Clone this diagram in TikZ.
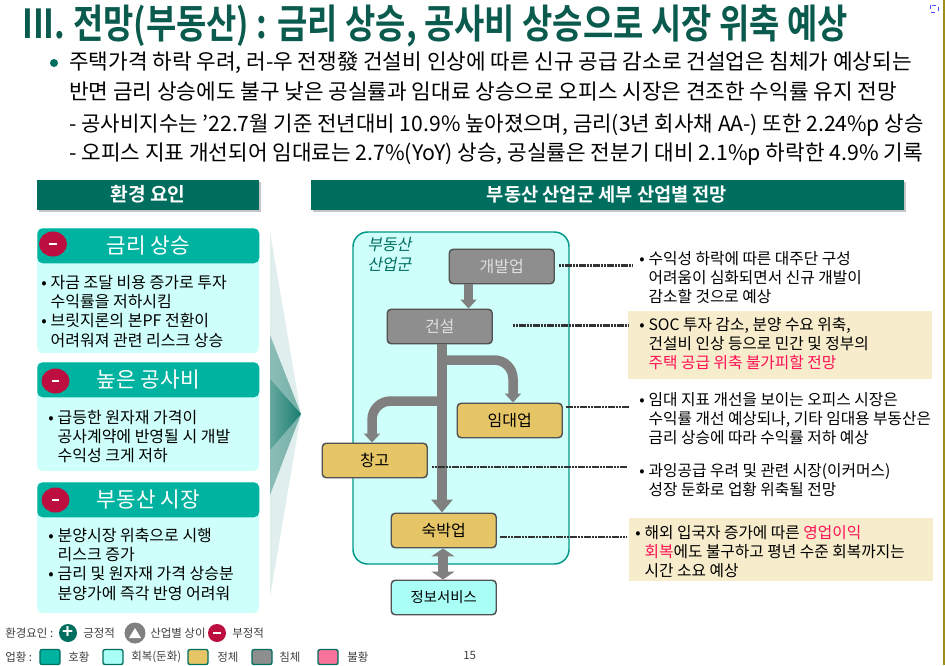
\documentclass[tikz,border=0pt]{standalone}
\usepackage{fontspec}
\setmainfont{Noto Sans CJK KR}
\newfontfamily\krbold{Noto Sans CJK KR Bold}
\newfontfamily\krslant[FakeSlant=0.2]{Noto Sans CJK KR}
\usepackage{tikz}
\usetikzlibrary{arrows.meta,shadows,shapes.geometric}
\definecolor{deepgreen}{HTML}{006E5F}
\definecolor{titlegreen}{HTML}{0B5A4E}
\definecolor{tealhead}{HTML}{00B3A0}
\definecolor{palecyan}{HTML}{CFFFFA}
\definecolor{mintfill}{HTML}{A9FFF6}
\definecolor{sandbox}{HTML}{F7ECCB}
\definecolor{stall}{HTML}{E6C566}
\definecolor{slump}{HTML}{8E8E8E}
\definecolor{badpink}{HTML}{F8729A}
\definecolor{hotred}{HTML}{FF0F55}
\definecolor{minusred}{HTML}{BC0F3F}
\newcommand{\pxu}{pt*0.75}
\newcommand{\bu}{\makebox[7pt][l]{•}}
\newcommand{\hang}{\hspace*{7pt}}
\newcommand{\minusbar}{\rule{5.5pt}{2pt}}
\tikzset{
  headbar/.style={fill=deepgreen, text=white, minimum height=30\pxu, inner sep=0pt, drop shadow={shadow xshift=1.5pt, shadow yshift=-1.5pt, fill=black!45}},
  factorhead/.style={rounded corners=4pt, fill=tealhead, text=white, minimum width=222\pxu, minimum height=35\pxu, inner sep=0pt},
  minusdot/.style={ellipse, fill=minusred, text=white, minimum width=28\pxu, minimum height=25\pxu, inner sep=0pt},
  sector/.style={rounded corners=3pt, draw=black!68, line width=1.1pt, minimum width=105\pxu, minimum height=34.5\pxu, inner sep=0pt, anchor=north west, font=\fontsize{12pt}{14pt}\selectfont},
  flow/.style={draw=black!50, line width=9.5\pxu, -{Triangle[width=16\pxu,length=9\pxu]}},
  leader/.style={line width=1.8pt, dash pattern=on 1.6pt off 0.5pt, black!80},
  note/.style={anchor=north west, align=left, inner sep=0pt, font=\fontsize{11.8pt}{14.4pt}\selectfont},
  legendbox/.style={rounded corners=1.5pt, draw=deepgreen, line width=1pt, minimum width=20\pxu, minimum height=15\pxu, inner sep=0pt},
  legendtext/.style={font=\fontsize{8.6pt}{9pt}\selectfont, black!75, inner sep=0pt, anchor=west},
}
\begin{document}
\begin{tikzpicture}[x=0.75pt, y=-0.75pt]
\useasboundingbox (0,0) rectangle (945,665);
\fill[white] (0,0) rectangle (945,665);
\fill[olive!70!brown] (943,0) rectangle (945,665);
\draw[blue!70!white, dashed, line width=0.5pt] (930,5) rectangle (938,12);
% title and lead text
\node[anchor=west, inner sep=0pt, text=titlegreen] (title) at (22,26) {\fontsize{30pt}{32pt}\krbold\scalebox{0.823}[1]{III. 전망(부동산) : 금리 상승, 공사비 상승으로 시장 위축 예상}};
\node[circle, fill=deepgreen, minimum size=8\pxu, inner sep=0pt] (leaddot) at (54,63) {};
\node[anchor=west, inner sep=0pt] (lead1) at (69,63) {\fontsize{16pt}{18pt}\selectfont 주택가격 하락 우려, 러-우 전쟁發 건설비 인상에 따른 신규 공급 감소로 건설업은 침체가 예상되는};
\node[anchor=west, inner sep=0pt] (lead2) at (69,92) {\fontsize{16pt}{18pt}\selectfont 반면 금리 상승에도 불구 낮은 공실률과 임대료 상승으로 오피스 시장은 견조한 수익률 유지 전망};
\node[anchor=west, inner sep=0pt] (lead3) at (69,125) {\fontsize{15.85pt}{18pt}\selectfont - 공사비지수는 ’22.7월 기준 전년대비 10.9\% 높아졌으며, 금리(3년 회사채 AA-) 또한 2.24\%p 상승};
\node[anchor=west, inner sep=0pt] (lead4) at (69,154) {\fontsize{16pt}{18pt}\selectfont - 오피스 지표 개선되어 임대료는 2.7\%(YoY) 상승, 공실률은 전분기 대비 2.1\%p 하락한 4.9\% 기록};
% header bars
\node[headbar, minimum width=222\pxu] (envhead) at (148,194.5) {\fontsize{14.4pt}{16pt}\krbold 환경 요인};
\node[headbar, minimum width=593\pxu] (sechead) at (607,194.5) {\fontsize{14pt}{16pt}\krbold 부동산 산업군 세부 산업별 전망};
% fan towards the sectors
\shade[left color=black!12!teal!12, right color=black!12!teal!12] (270,232) -- (301,414) -- (270,597) -- cycle;
\shade[left color=deepgreen!45, right color=deepgreen!55] (270,335) -- (301,414) -- (270,495) -- cycle;
\shade[left color=deepgreen!60, right color=deepgreen!90] (270,379) -- (301,414) -- (270,450) -- cycle;
% factor cards
\foreach \nm/\ytop/\ybot/\ttl in {a/228/353/금리 상승, b/362/471/높은 공사비, c/482/613/부동산 시장} {
  \fill[palecyan, rounded corners=4pt] (37,\ytop) rectangle (259,\ybot);
  \node[factorhead, anchor=north west, font=\fontsize{16pt}{18pt}\selectfont] (head\nm) at (37,\ytop) {\ttl};
}
\node[minusdot] (minusa) at (53,244) {\minusbar};
\node[minusdot] (minusb) at (55.5,381) {\minusbar};
\node[minusdot] (minusc) at (55.5,500) {\minusbar};
\node[note, font=\fontsize{12pt}{14.4pt}\selectfont] (cardatext) at (41,275) {\bu 자금 조달 비용 증가로 투자\\\hang 수익률을 저하시킴\\\bu 브릿지론의 본PF 전환이\\\hang 어려워져 관련 리스크 상승};
\node[note, font=\fontsize{12pt}{14.4pt}\selectfont] (cardbtext) at (48,410) {\bu 급등한 원자재 가격이\\\hang 공사계약에 반영될 시 개발\\\hang 수익성 크게 저하};
\node[note, font=\fontsize{12pt}{14.4pt}\selectfont] (cardctext) at (48,528) {\bu 분양시장 위축으로 시행\\\hang 리스크 증가\\\bu 금리 및 원자재 가격 상승분\\\hang 분양가에 즉각 반영 어려워};
% sector panel
\draw[fill=palecyan, draw=tealhead!85!black, line width=1.1pt, rounded corners=11pt] (353,232) rectangle (569,564);
\node[anchor=north west, align=left, inner sep=0pt, text=deepgreen, font=\fontsize{12pt}{15pt}\krslant] (panellabel) at (367,237) {부동산\\산업군};
\node[sector, fill=slump, text=white!88!black] (dev) at (448.5,248.5) {개발업};
\node[sector, fill=slump, text=white!88!black] (con) at (386.5,308.5) {건설};
\node[sector, fill=stall] (lease) at (456.5,402.5) {임대업};
\node[sector, fill=stall] (store) at (321.5,442.5) {창고};
\node[sector, fill=stall] (stay) at (390.5,512.5) {숙박업};
\node[sector, fill=mintfill, font=\fontsize{10.8pt}{14pt}\selectfont] (info) at (390.5,579.5) {정보서비스};
\coordinate (trunkhi) at (442,360);
\coordinate (trunklo) at (442,401);
\draw[flow] (dev.south -| 468.5,0) -- (con.north -| 468.5,0);
\draw[flow, -{Triangle[width=21\pxu,length=13\pxu]}] (con.south -| 442,0) -- (stay.north -| 442,0);
\draw[flow, rounded corners=14pt] (trunkhi) -- (513,360) -- (lease.north -| 513,0);
\draw[flow, rounded corners=14pt] (trunklo) -- (372,401) -- (store.north -| 372,0);
\draw[flow, {Triangle[width=23\pxu,length=8\pxu]}-{Triangle[width=23\pxu,length=8\pxu]}] (stay.south -| 443,0) -- (info.north -| 443,0);
% notes
\fill[sandbox] (628,311) rectangle (932,379);
\fill[sandbox] (629,518) rectangle (933,581);
% leaders
\coordinate (noteone) at (632,265.5);
\coordinate (notetwo) at (628,325.5);
\coordinate (notethree) at (630,407);
\coordinate (notefour) at (627,467);
\coordinate (notefive) at (626,537);
\draw[leader, shorten <=3pt] (dev.east |- noteone) -- (noteone);
\draw[leader, shorten <=15pt] (con.east |- notetwo) -- (notetwo);
\draw[leader, shorten <=2pt] (lease.east |- notethree) -- (notethree);
\draw[leader, shorten <=3pt] (store.east |- notefour) -- (notefour);
\draw[leader, shorten <=2pt] (stay.east |- notefive) -- (notefive);
\node[note] (noteonetext) at (639,251) {\bu 수익성 하락에 따른 대주단 구성\\\hang 어려움이 심화되면서 신규 개발이\\\hang 감소할 것으로 예상};
\node[note] (notetwotext) at (639,317) {\bu SOC 투자 감소, 분양 수요 위축,\\\hang 건설비 인상 등으로 민간 및 정부의\\\hang \textcolor{hotred}{주택 공급 위축 불가피할 전망}};
\node[note] (notethreetext) at (639,392) {\bu 임대 지표 개선을 보이는 오피스 시장은\\\hang 수익률 개선 예상되나, 기타 임대용 부동산은\\\hang 금리 상승에 따라 수익률 저하 예상};
\node[note] (notefourtext) at (639,463) {\bu 과잉공급 우려 및 관련 시장(이커머스)\\\hang 성장 둔화로 업황 위축될 전망};
\node[note] (notefivetext) at (635,525) {\bu 해외 입국자 증가에 따른 \textcolor{hotred}{영업이익}\\\hang \textcolor{hotred}{회복}에도 불구하고 평년 수준 회복까지는\\\hang 시간 소요 예상};
% legend
\node[legendtext] (envlegend) at (5,633) {환경요인 :};
\node[circle, fill=deepgreen, minimum size=18\pxu, inner sep=0pt, text=white, font=\fontsize{14pt}{14pt}\krbold] (plusdot) at (68,633) {+};
\node[legendtext] (pluslabel) at (83,633) {긍정적};
\node[circle, fill=black!50, minimum size=21\pxu, inner sep=0pt] (mixdot) at (135,633) {};
\fill[white] (129,638) -- (135,628) -- (141,638) -- cycle;
\node[legendtext] (mixlabel) at (150,633) {산업별 상이};
\node[circle, fill=minusred, minimum size=18\pxu, inner sep=0pt, text=white] (negdot) at (217,633) {\minusbar};
\node[legendtext] (neglabel) at (232,633) {부정적};
\node[legendtext] (sectorlegend) at (5,657) {업황 :};
\foreach \nm/\xc/\col/\lx/\lab in {good/50/tealhead/68/호황, mend/113/mintfill/131/회복(둔화), flat/198/stall/217/정체, sink/262/slump/279/침체, bad/328/badpink/347/불황} {
  \node[legendbox, fill=\col] (box\nm) at (\xc,657) {};
  \node[legendtext] (lab\nm) at (\lx,657) {\lab};
}
\node[legendtext] (pageno) at (463,655) {15};
\end{tikzpicture}
\end{document}
